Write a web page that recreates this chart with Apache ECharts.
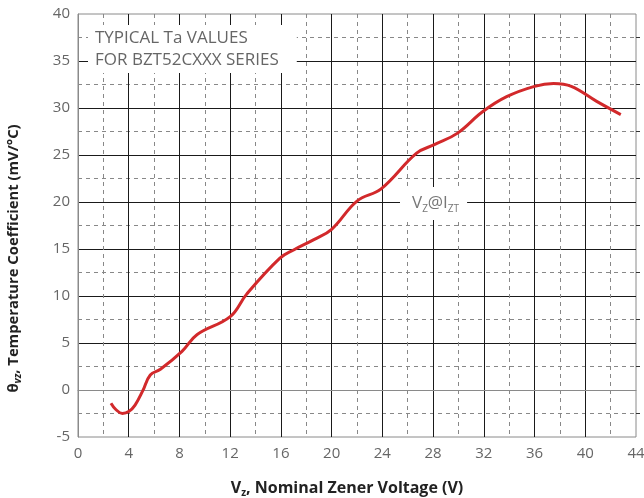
<!DOCTYPE html>
<html>
<head>
<meta charset="utf-8">
<script src="https://cdn.jsdelivr.net/npm/echarts@6/dist/echarts.min.js"></script>
<style>
    html, body { margin: 0; padding: 0; background: #fff; }
    #main { width: 644px; height: 498px; }
</style>
</head>
<body>
<div id="main"></div>
<script>
// nominal zener voltage (V)
var vz = [2.6, 3.0, 3.5, 4.0, 4.5, 5.1, 5.7, 6.5, 8.2, 9.4, 12.0, 13.3, 15.9, 17.0, 18.6, 20.0, 22.0, 23.9, 26.7, 28.1, 29.9, 31.9, 33.8, 36.0, 37.5, 38.9, 40.9, 42.8]
// temperature coefficient (mV/°C)
var tc = [-1.4, -2.1, -2.5, -2.3, -1.6, -0.1, 1.6, 2.2, 4.1, 5.9, 7.8, 10.2, 14.0, 14.9, 16.0, 17.1, 20.1, 21.4, 25.2, 26.1, 27.3, 29.6, 31.2, 32.3, 32.6, 32.3, 30.7, 29.3]

var xTicks = [0, 4, 8, 12, 16, 20, 24, 28, 32, 36, 40, 44]
var yTicks = [-5, 0, 5, 10, 15, 20, 25, 30, 35, 40]

var curve = vz.map(function (v, i) { return [v, tc[i]] })

var echart = echarts.init(document.getElementById('main'))
var font = '"Open Sans", "Noto Sans", sans-serif'
var option = {
    animation: false,
    grid: {
        left: 78,
        right: 8,
        top: 14,
        bottom: 61,
        outerBoundsMode: 'none',
        containLabel: false,
        show: true,
        borderColor: '#8a8a8a',
        borderWidth: 1,
        z: 0
    },
    xAxis: {
        type: 'value',
        min: xTicks[0],
        max: xTicks[xTicks.length - 1],
        interval: 4,
        name: '{b|V}{s|z}{b|, Nominal Zener Voltage (V)}',
        nameLocation: 'middle',
        nameGap: 42,
        nameTextStyle: {
            padding: [0, 20, 0, 0],
            rich: {
                b: { fontFamily: font, fontWeight: 'bold', fontSize: 16, color: '#222' },
                s: { fontFamily: font, fontWeight: 'bold', fontSize: 10, color: '#222', verticalAlign: 'bottom', padding: [9, 0, 0, 0] }
            }
        },
        axisLine: { show: true, lineStyle: { color: '#8a8a8a' } },
        axisTick: { show: false },
        axisLabel: { color: '#666', fontSize: 15, fontFamily: font, margin: 9 },
        splitLine: { show: true, showMinLine: false, showMaxLine: false, lineStyle: { color: '#1a1a1a', width: 1 } },
        minorTick: { show: false, splitNumber: 2 },
        minorSplitLine: { show: true, lineStyle: { color: '#888', type: [4, 4], width: 1 } }
    },
    yAxis: [
        {
            type: 'value',
            min: yTicks[0],
            max: yTicks[yTicks.length - 1],
            interval: 5,
            name: '{b|θ}{s|vz}{b|, Temperature Coefficient (mV/°C)}',
            nameLocation: 'middle',
            nameGap: 55,
            nameRotate: 90,
            nameTextStyle: {
                padding: [0, 66, 0, 0],
                rich: {
                    b: { fontFamily: font, fontWeight: 'bold', fontSize: 14.8, color: '#222' },
                    s: { fontFamily: font, fontWeight: 'bold', fontStyle: 'italic', fontSize: 10, color: '#222', verticalAlign: 'bottom', padding: [9, 0, 0, 0] }
                }
            },
            axisLine: { show: true, lineStyle: { color: '#8a8a8a' } },
            axisTick: { show: false },
            axisLabel: { color: '#666', fontSize: 15, fontFamily: font, margin: 8 },
            splitLine: { show: true, showMinLine: false, showMaxLine: false, lineStyle: { color: '#1a1a1a', width: 1 } },
            minorTick: { show: false, splitNumber: 2 },
            minorSplitLine: { show: true, lineStyle: { color: '#888', type: [4, 4], width: 1 } }
        },
        {
            // right side: only the little outside ticks on the dashed rows
            type: 'value',
            position: 'right',
            min: yTicks[0],
            max: yTicks[yTicks.length - 1],
            interval: 5,
            axisLine: { show: false },
            axisTick: { show: false },
            axisLabel: { show: false },
            splitLine: { show: false },
            minorTick: { show: true, splitNumber: 2, length: 4, lineStyle: { color: '#333', width: 1 } }
        }
    ],
    graphic: [
        {
            type: 'text',
            left: 88,
            top: 25,
            z: 3,
            style: {
                text: 'TYPICAL Ta VALUES\nFOR BZT52CXXX SERIES',
                fontFamily: font,
                fontSize: 17,
                lineHeight: 22,
                fill: '#666',
                backgroundColor: '#fff',
                padding: [2, 18, 2, 7]
            }
        },
        {
            type: 'text',
            left: 400,
            top: 187,
            z: 3,
            style: {
                text: '{m|V}{s|Z}{m|@I}{s|ZT}',
                backgroundColor: '#fff',
                padding: [6, 8, 6, 12],
                rich: {
                    m: { fontFamily: font, fontSize: 17, fill: '#777', color: '#777' },
                    s: { fontFamily: font, fontSize: 10, fill: '#777', color: '#777', verticalAlign: 'bottom', padding: [11, 0, 0, 0] }
                }
            }
        }
    ],
    series: [
        {
            type: 'line',
            smooth: 0.4,
            symbol: 'none',
            z: 5,
            lineStyle: { color: '#d2292b', width: 3 },
            data: curve
        }
    ]
}
echart.setOption(option)
</script>
</body>
</html>
